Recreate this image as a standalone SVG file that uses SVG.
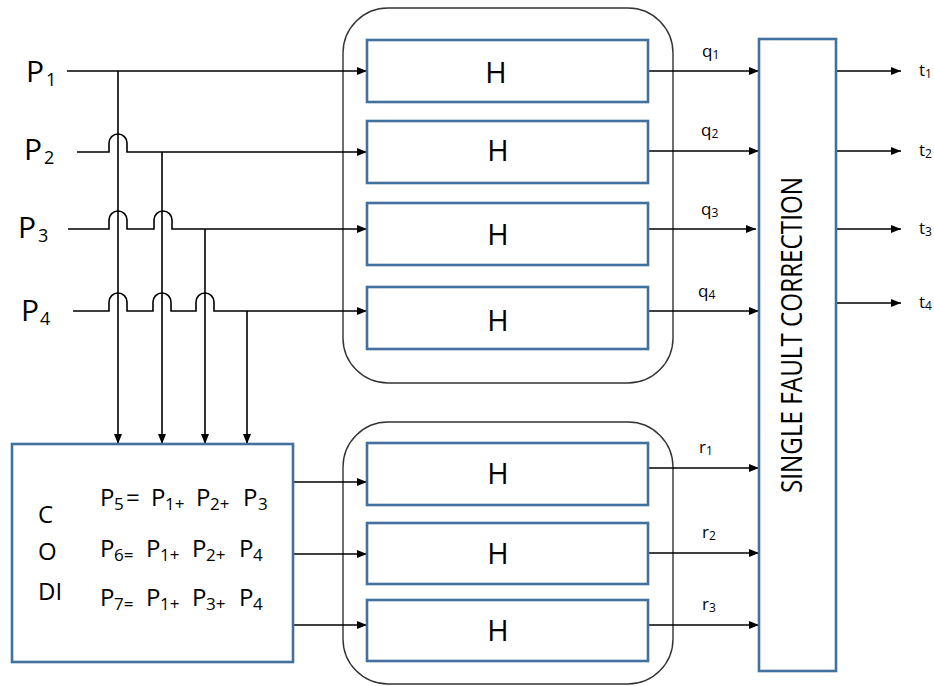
<svg xmlns="http://www.w3.org/2000/svg" width="934" height="686" viewBox="0 0 934 686">
<defs>
<marker id="ah" viewBox="0 0 10 8" refX="10" refY="4" markerWidth="10" markerHeight="8" markerUnits="userSpaceOnUse" orient="auto">
<path d="M0,0 L10,4 L0,8 Z" fill="#000"/>
</marker>
<style>
.box{fill:#fff;stroke:#41719C;stroke-width:2.6}
.cont{fill:none;stroke:#333;stroke-width:1.4}
.w{fill:none;stroke:#000;stroke-width:1.6}
.a{fill:none;stroke:#000;stroke-width:1.6;marker-end:url(#ah)}
.t{font-family:"Open Sans","Liberation Sans",sans-serif;fill:#000}
.h{font-size:29px;text-anchor:middle}
.pl{font-size:30px}
.sub{font-size:18px}
.eq{font-size:24px}
.es{font-size:17px}
.q{font-size:17px}
.qs{font-size:12px}
</style>
</defs>
<rect width="934" height="686" fill="#fff"/>

<g id="containers">
<rect class="cont" x="343" y="8" width="330" height="375" rx="45"/>
<rect class="cont" x="343" y="422" width="330" height="262" rx="45"/>
</g>

<g id="connectors">
<path class="a" d="M67,71 H367"/>
<path class="a" d="M77,152 H109 V143 A9,9 0 0 1 127,143 V152 H367"/>
<path class="a" d="M68,229 H109 V220 A9,9 0 0 1 127,220 V229 H154 V220 A9,9 0 0 1 172,220 V229 H367"/>
<path class="a" d="M73,311 H109 V302 A9,9 0 0 1 127,302 V311 H153 V302 A9,9 0 0 1 171,302 V311 H196 V302 A9,9 0 0 1 214,302 V311 H367"/>
<path class="a" d="M118,71 V444"/>
<path class="a" d="M162,152 V444"/>
<path class="a" d="M205,229 V444"/>
<path class="a" d="M247,311 V444"/>
<path class="a" d="M293,482 H367"/>
<path class="a" d="M293,554 H367"/>
<path class="a" d="M293,625 H367"/>
<path class="a" d="M648,71 H759"/>
<path class="a" d="M648,151 H759"/>
<path class="a" d="M645,229 H756"/>
<path class="a" d="M648,311 H759"/>
<path class="a" d="M648,468 H759"/>
<path class="a" d="M648,553 H759"/>
<path class="a" d="M648,625 H759"/>
<path class="a" d="M836,71 H901"/>
<path class="a" d="M836,151 H901"/>
<path class="a" d="M836,229 H901"/>
<path class="a" d="M836,303 H901"/>
</g>

<g id="inputs">
<text class="t pl" x="26" y="82">P<tspan class="sub" x="46" y="86">1</tspan></text>
<text class="t pl" x="24" y="160">P<tspan class="sub" x="44" y="164">2</tspan></text>
<text class="t pl" x="18" y="238">P<tspan class="sub" x="38" y="242">3</tspan></text>
<text class="t pl" x="21" y="321">P<tspan class="sub" x="40" y="325">4</tspan></text>
</g>

<g id="h1"><rect class="box" x="367" y="40" width="281" height="62"/><text class="t h" x="496" y="83">H</text></g>
<g id="h2"><rect class="box" x="367" y="121" width="281" height="62"/><text class="t h" x="498" y="161">H</text></g>
<g id="h3"><rect class="box" x="367" y="203" width="281" height="62"/><text class="t h" x="498" y="245">H</text></g>
<g id="h4"><rect class="box" x="367" y="287" width="281" height="62"/><text class="t h" x="498" y="331">H</text></g>
<g id="h5"><rect class="box" x="367" y="443" width="281" height="62"/><text class="t h" x="498" y="484">H</text></g>
<g id="h6"><rect class="box" x="367" y="523" width="281" height="61"/><text class="t h" x="498" y="564">H</text></g>
<g id="h7"><rect class="box" x="367" y="600" width="281" height="61"/><text class="t h" x="498" y="641">H</text></g>

<g id="codi">
<rect class="box" x="12" y="444" width="281" height="218"/>
<text class="t eq" x="38" y="523">C</text>
<text class="t eq" x="38" y="560">O</text>
<text class="t eq" x="38" y="600">DI</text>
<text class="t eq" x="100" y="506">P<tspan class="es" x="114" y="510">5</tspan><tspan x="126" y="506">=</tspan><tspan x="151" y="506">P</tspan><tspan class="es" x="165" y="510">1+</tspan><tspan x="196" y="506">P</tspan><tspan class="es" x="210" y="510">2+</tspan><tspan x="243" y="506">P</tspan><tspan class="es" x="258" y="510">3</tspan></text>
<text class="t eq" x="100" y="557">P<tspan class="es" x="114" y="561">6=</tspan><tspan x="146" y="557">P</tspan><tspan class="es" x="160" y="561">1+</tspan><tspan x="192" y="557">P</tspan><tspan class="es" x="206" y="561">2+</tspan><tspan x="239" y="557">P</tspan><tspan class="es" x="253" y="561">4</tspan></text>
<text class="t eq" x="100" y="606">P<tspan class="es" x="114" y="610">7=</tspan><tspan x="146" y="606">P</tspan><tspan class="es" x="160" y="610">1+</tspan><tspan x="192" y="606">P</tspan><tspan class="es" x="206" y="610">3+</tspan><tspan x="239" y="606">P</tspan><tspan class="es" x="253" y="610">4</tspan></text>
</g>

<g id="sfc">
<rect class="box" x="759" y="39" width="77" height="632"/>
<text class="t" font-size="30" text-anchor="middle" transform="translate(802,335) rotate(-90)" textLength="316" lengthAdjust="spacingAndGlyphs">SINGLE FAULT CORRECTION</text>
</g>

<g id="labels">
<text class="t q" x="702" y="57">q<tspan class="qs" dy="2">1</tspan></text>
<text class="t q" x="701" y="136">q<tspan class="qs" dy="2">2</tspan></text>
<text class="t q" x="701" y="215">q<tspan class="qs" dy="2">3</tspan></text>
<text class="t q" x="698" y="297">q<tspan class="qs" dy="2">4</tspan></text>
<text class="t q" x="699" y="453">r<tspan class="qs" dy="2">1</tspan></text>
<text class="t q" x="702" y="538">r<tspan class="qs" dy="2">2</tspan></text>
<text class="t q" x="702" y="610">r<tspan class="qs" dy="2">3</tspan></text>
<text class="t q" x="919" y="76">t<tspan class="qs" dy="2">1</tspan></text>
<text class="t q" x="919" y="156">t<tspan class="qs" dy="2">2</tspan></text>
<text class="t q" x="919" y="234">t<tspan class="qs" dy="2">3</tspan></text>
<text class="t q" x="919" y="308">t<tspan class="qs" dy="2">4</tspan></text>
</g>
</svg>
